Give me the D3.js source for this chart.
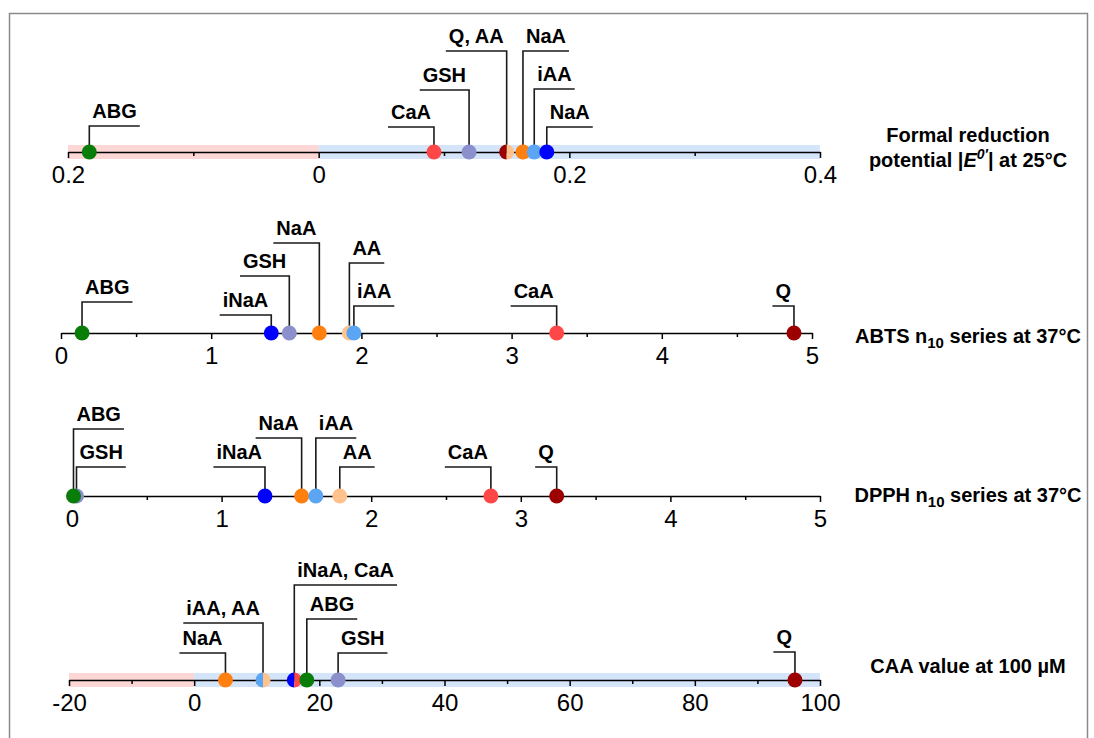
<!DOCTYPE html>
<html><head><meta charset="utf-8">
<script src="https://cdn.jsdelivr.net/npm/d3@7"></script>
<style>
body{margin:0;background:#fff}
svg{display:block}
text{font-family:"Liberation Sans",Arial,Helvetica,sans-serif}
</style>
</head><body>
<svg id="chart" width="1094" height="738"></svg>
<script>
// ---------- data ----------
const compounds = ["Q","AA","NaA","iNaA","iAA","CaA","GSH","ABG"];
const compoundColors = ["#9c0000","#ffc28c","#ff7f0f","#0000ff","#5aa6f4","#ff4747","#8b8fcc","#087d08"];

// Panel 1: formal reduction potential
const e0Domain = [-0.2, 0.4];
const e0Ticks = [-0.2, 0, 0.2, 0.4];
const e0MinorTicks = [-0.1, 0.1, 0.3];
const e0Labels = ["ABG","CaA","GSH","Q, AA","NaA","iAA","NaA"];
const e0Compounds = [["ABG"],["CaA"],["GSH"],["Q","AA"],["NaA"],["iAA"],["iNaA"]];
const e0Values = [-0.183, 0.092, 0.120, 0.150, 0.163, 0.172, 0.182];

// Panel 2: ABTS n10
const abtsDomain = [0, 5];
const abtsTicks = [0,1,2,3,4,5];
const abtsMinorTicks = [0.5,1.5,2.5,3.5,4.5];
const abtsLabels = ["ABG","iNaA","GSH","NaA","AA","iAA","CaA","Q"];
const abtsCompounds = [["ABG"],["iNaA"],["GSH"],["NaA"],["AA"],["iAA"],["CaA"],["Q"]];
const abtsValues = [0.14, 1.40, 1.52, 1.72, 1.92, 1.95, 3.30, 4.88];

// Panel 3: DPPH n10
const dpphDomain = [0, 5];
const dpphTicks = [0,1,2,3,4,5];
const dpphMinorTicks = [0.5,1.5,2.5,3.5,4.5];
const dpphLabels = ["GSH","ABG","iNaA","NaA","iAA","AA","CaA","Q"];
const dpphCompounds = [["GSH"],["ABG"],["iNaA"],["NaA"],["iAA"],["AA"],["CaA"],["Q"]];
const dpphValues = [0.03, 0.01, 1.29, 1.535, 1.63, 1.79, 2.80, 3.24];

// Panel 4: CAA value
const caaDomain = [-20, 100];
const caaTicks = [-20,0,20,40,60,80,100];
const caaMinorTicks = [-10,10,30,50,70,90];
const caaLabels = ["NaA","iAA, AA","iNaA, CaA","ABG","GSH","Q"];
const caaCompounds = [["NaA"],["iAA","AA"],["iNaA","CaA"],["ABG"],["GSH"],["Q"]];
const caaValues = [5, 11, 16, 18, 23, 96];

// ---------- layout (annotation placement, not data) ----------
const e0Rise = [26,25,62,101,101,63,25];
const e0Side = ["right","left","left","left","right","right","right"];
const abtsRise = [31,18,57,90,70,27,27,27];
const abtsSide = ["right","left","left","left","right","right","left","left"];
const dpphRise = [29,67,29,58,58,29,29,29];
const dpphSide = ["right","right","left","left","right","right","left","left"];
const caaRise = [27,57,95,61,27,28];
const caaSide = ["left","left","right","right","right","left"];

const color = d3.scaleOrdinal().domain(compounds).range(compoundColors);
const svg = d3.select("#chart");

// frame
svg.append("rect").attr("x",9.5).attr("y",13.5).attr("width",1078).attr("height",760)
  .attr("fill","none").attr("stroke","#8a8a8a").attr("stroke-width",1.5);

const intFmt = d => String(d);
const panels = [
  {domain:e0Domain, ticks:e0Ticks, minor:e0MinorTicks, labels:e0Labels, comps:e0Compounds, values:e0Values,
   rise:e0Rise, side:e0Side, range:[68,820], y:152, shade:true, fmt:d=> d===0?"0":Math.abs(d).toFixed(1)},
  {domain:abtsDomain, ticks:abtsTicks, minor:abtsMinorTicks, labels:abtsLabels, comps:abtsCompounds, values:abtsValues,
   rise:abtsRise, side:abtsSide, range:[61,812], y:333, shade:false, fmt:intFmt},
  {domain:dpphDomain, ticks:dpphTicks, minor:dpphMinorTicks, labels:dpphLabels, comps:dpphCompounds, values:dpphValues,
   rise:dpphRise, side:dpphSide, range:[72,820], y:496, shade:false, fmt:intFmt},
  {domain:caaDomain, ticks:caaTicks, minor:caaMinorTicks, labels:caaLabels, comps:caaCompounds, values:caaValues,
   rise:caaRise, side:caaSide, range:[69,820], y:680, shade:true, fmt:intFmt}
];

const R = 7.5;
const arcL = d3.arc().innerRadius(0).outerRadius(R).startAngle(Math.PI).endAngle(2*Math.PI);
const arcR = d3.arc().innerRadius(0).outerRadius(R).startAngle(0).endAngle(Math.PI);
const arcFull = d3.arc().innerRadius(0).outerRadius(R).startAngle(0).endAngle(2*Math.PI);

panels.forEach(p => {
  const x = d3.scaleLinear().domain(p.domain).range(p.range);
  const g = svg.append("g");
  if (p.shade) {
    g.append("rect").attr("x", x(p.domain[0])).attr("width", x(0)-x(p.domain[0]))
      .attr("y", p.y-7).attr("height", 14).attr("fill","#fdd6d6");
    g.append("rect").attr("x", x(0)).attr("width", x(p.domain[1])-x(0))
      .attr("y", p.y-7).attr("height", 14).attr("fill","#d4e4f9");
  }
  // minor ticks
  g.append("g").attr("transform",`translate(0,${p.y})`)
    .call(d3.axisBottom(x).tickValues(p.minor).tickSize(4).tickSizeOuter(0).tickFormat(""))
    .call(a=>{a.select(".domain").remove(); a.selectAll("line").attr("stroke","#000").attr("stroke-width",1.5);});
  // major axis
  g.append("g").attr("transform",`translate(0,${p.y})`)
    .call(d3.axisBottom(x).tickValues(p.ticks).tickSize(6).tickSizeOuter(0).tickPadding(8).tickFormat(p.fmt))
    .call(a=>{
      a.select(".domain").attr("stroke","#000").attr("stroke-width",1.6);
      a.selectAll("line").attr("stroke","#000").attr("stroke-width",1.5);
      a.selectAll("text").attr("font-size",24).attr("fill","#000")
        .attr("font-family",'"Liberation Sans",Arial,sans-serif');
    });

  // labels & leaders
  p.values.forEach((v,i) => {
    const px = x(v);
    const ly = p.y - p.rise[i];
    const t = g.append("text").text(p.labels[i]).attr("font-size",20).attr("font-weight","bold")
      .attr("fill","#000").attr("text-anchor","middle");
    const w = t.node().getComputedTextLength();
    const len = w + 6;
    const x2 = p.side[i]==="right" ? px + len : px - len;
    t.attr("x",(px+x2)/2).attr("y", ly-8);
    g.append("path").attr("d",`M${px},${p.y}V${ly}H${x2}`)
      .attr("fill","none").attr("stroke","#1a1a1a").attr("stroke-width",1.6);
  });
  // points
  p.values.forEach((v,i) => {
    const c = p.comps[i];
    const pg = g.append("g").attr("transform",`translate(${x(v)},${p.y})`);
    if (c.length===2) {
      pg.append("path").attr("d",arcL()).attr("fill",color(c[0]));
      pg.append("path").attr("d",arcR()).attr("fill",color(c[1]));
    } else {
      pg.append("path").attr("d",arcFull()).attr("fill",color(c[0]));
    }
  });
});

// right-hand titles
const tx = 968;
function title(y){ return svg.append("text").attr("x",tx).attr("y",y).attr("text-anchor","middle")
  .attr("font-size",20).attr("font-weight","bold").attr("fill","#000"); }
title(142).text("Formal reduction");
const t1 = title(167);
t1.append("tspan").text("potential |");
t1.append("tspan").attr("font-style","italic").text("E");
t1.append("tspan").attr("font-style","italic").attr("font-size",14).attr("dy",-8).text("0′");
t1.append("tspan").attr("dy",8).text("| at 25°C");
const t2 = title(343);
t2.append("tspan").text("ABTS n");
t2.append("tspan").attr("font-size",15).attr("dy",5).text("10");
t2.append("tspan").attr("dy",-5).text(" series at 37°C");
const t3 = title(502);
t3.append("tspan").text("DPPH n");
t3.append("tspan").attr("font-size",15).attr("dy",5).text("10");
t3.append("tspan").attr("dy",-5).text(" series at 37°C");
title(673).text("CAA value at 100 µM");
</script>
</body></html>
